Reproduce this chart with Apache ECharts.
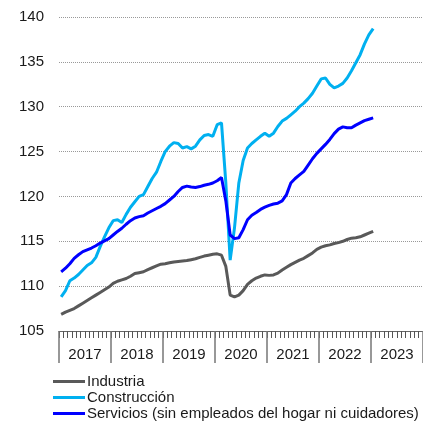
<!DOCTYPE html>
<html>
<head>
<meta charset="utf-8">
<script src="https://cdn.jsdelivr.net/npm/echarts@6/dist/echarts.min.js"></script>
<style>
html, body { margin: 0; padding: 0; background: #fff; }
#chart { width: 423px; height: 422px; }
</style>
</head>
<body>
<div id="chart"></div>
<script>
var years = ['2017', '2018', '2019', '2020', '2021', '2022', '2023'];
var months = [];
years.forEach(function (y) {
    for (var m = 1; m <= 12; m++) months.push(y + '-' + (m < 10 ? '0' + m : m));
});

// ene 2017 - ene 2023
var industria = [
    106.85, 107.1, 107.3, 107.5, 107.8, 108.1, 108.4, 108.7, 109.0, 109.3, 109.6, 109.9,
    110.3, 110.55, 110.7, 110.85, 111.1, 111.4, 111.5, 111.6, 111.85, 112.05, 112.25, 112.45,
    112.5, 112.6, 112.7, 112.75, 112.8, 112.85, 112.95, 113.05, 113.2, 113.35, 113.45, 113.55,
    113.6, 113.45, 112.2, 109.0, 108.8, 109.0, 109.5, 110.2, 110.6, 110.9, 111.1, 111.25,
    111.2, 111.25, 111.45, 111.8, 112.1, 112.4, 112.65, 112.9, 113.1, 113.4, 113.7, 114.1,
    114.35, 114.5, 114.6, 114.75, 114.85, 115.0, 115.2, 115.35, 115.4, 115.5, 115.7, 115.9,
    116.1
];
var construccion = [
    108.8, 109.5, 110.6, 110.9, 111.3, 111.8, 112.3, 112.6, 113.2, 114.4, 115.5, 116.5,
    117.3, 117.4, 117.1, 118.0, 118.8, 119.4, 120.0, 120.2, 121.1, 122.0, 122.7, 123.9,
    125.0, 125.6, 126.0, 125.9, 125.4, 125.55, 125.3, 125.6, 126.3, 126.8, 126.9, 126.7,
    128.0, 128.2, 121.5, 112.9, 116.5, 121.5, 124.0, 125.4, 125.9, 126.3, 126.7, 127.05,
    126.7, 127.05, 127.8, 128.4, 128.7, 129.1, 129.5, 130.0, 130.4, 130.9, 131.5, 132.3,
    133.1, 133.2, 132.5, 132.1, 132.3, 132.6, 133.2, 134.0, 134.9, 135.8, 137.0, 138.0,
    138.7
];
var servicios = [
    111.6, 112.0, 112.5, 113.1, 113.5, 113.85, 114.05, 114.25, 114.5, 114.8, 115.05, 115.3,
    115.7, 116.1, 116.45, 116.9, 117.3, 117.6, 117.75, 117.85, 118.15, 118.4, 118.65, 118.9,
    119.2, 119.6, 120.0, 120.55, 121.0, 121.15, 121.05, 121.0, 121.1, 121.25, 121.35, 121.5,
    121.75, 122.1, 119.5, 115.7, 115.3, 115.4, 116.3, 117.4, 117.9, 118.2, 118.55, 118.8,
    119.0, 119.15, 119.25, 119.5, 120.2, 121.5, 122.0, 122.4, 122.8, 123.5, 124.2, 124.8,
    125.3, 125.8, 126.35, 127.0, 127.5, 127.75, 127.65, 127.65, 127.95, 128.2, 128.45, 128.6,
    128.75
];

var font = 'Liberation Sans, Arial, sans-serif';
var chart = echarts.init(document.getElementById('chart'));

chart.setOption({
    animation: false,
    grid: { left: 59, right: -8, top: 17, bottom: 91 },
    legend: {
        orient: 'vertical',
        left: 53,
        top: 374,
        padding: 0,
        itemWidth: 32,
        itemHeight: 3,
        itemGap: 1,
        icon: 'rect',
        textStyle: { fontFamily: font, fontSize: 15, color: '#1a1a1a', lineHeight: 15, padding: [0, 0, 0, -3] },
        data: ['Industria', 'Construcción', 'Servicios (sin empleados del hogar ni cuidadores)']
    },
    xAxis: [
        {
            type: 'category',
            data: months,
            boundaryGap: true,
            axisLine: { show: true, lineStyle: { color: '#666', width: 1 } },
            axisTick: { show: true, interval: 0, length: 7, lineStyle: { color: '#555', width: 1 } },
            axisLabel: { show: false }
        },
        {
            type: 'category',
            position: 'bottom',
            data: years,
            boundaryGap: true,
            axisLine: { show: false },
            axisTick: { show: true, interval: 0, length: 32, lineStyle: { color: '#777', width: 1.5 } },
            axisLabel: { interval: 0, margin: 16, fontFamily: font, fontSize: 15, color: '#1a1a1a' }
        }
    ],
    yAxis: {
        type: 'value',
        min: 105,
        max: 140,
        interval: 5,
        axisLine: { show: false },
        axisTick: { show: false },
        axisLabel: { margin: 15, fontFamily: font, fontSize: 15, color: '#1a1a1a' },
        splitLine: { lineStyle: { type: 'dotted', color: '#999', width: 1 } }
    },
    series: [
        {
            name: 'Industria',
            type: 'line',
            data: industria,
            symbol: 'none',
            color: '#595959',
            lineStyle: { width: 3 }
        },
        {
            name: 'Construcción',
            type: 'line',
            data: construccion,
            symbol: 'none',
            color: '#00b0f0',
            lineStyle: { width: 3 }
        },
        {
            name: 'Servicios (sin empleados del hogar ni cuidadores)',
            type: 'line',
            data: servicios,
            symbol: 'none',
            color: '#0000ff',
            lineStyle: { width: 3 }
        }
    ]
});
</script>
</body>
</html>
